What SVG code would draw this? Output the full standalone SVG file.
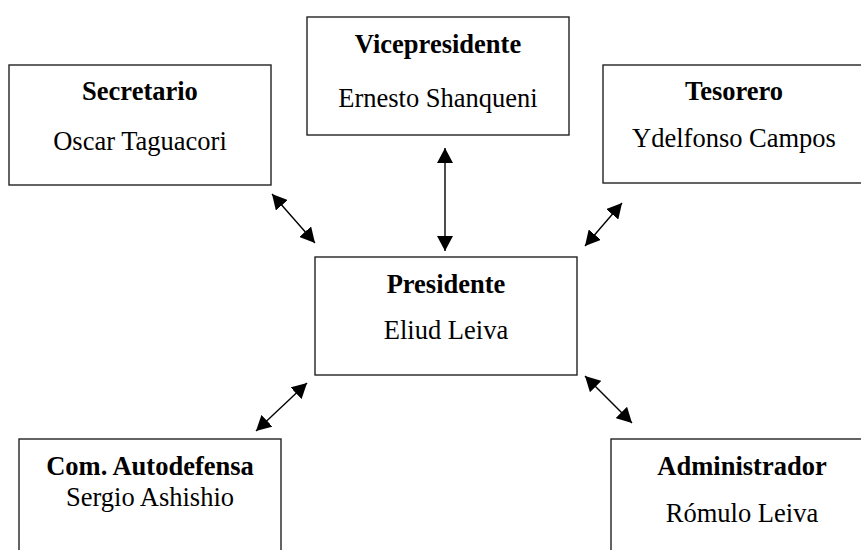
<svg xmlns="http://www.w3.org/2000/svg" width="861" height="550" viewBox="0 0 861 550">
<style>
.box{fill:#fff;stroke:#222;stroke-width:1.4}
.t{font-family:"Liberation Serif","Times New Roman",serif;font-size:26.5px;fill:#000;text-anchor:middle}
.b{font-weight:bold}
.c{stroke:#000;stroke-width:1.4;fill:none;marker-start:url(#ah);marker-end:url(#ah)}
</style>
<defs>
<marker id="ah" viewBox="0 0 15 16" refX="15" refY="8" markerWidth="15" markerHeight="16" markerUnits="userSpaceOnUse" orient="auto-start-reverse">
<path d="M0,0 L15,8 L0,16 Z" fill="#000"/>
</marker>
</defs>
<rect width="861" height="550" fill="#fff"/>
<g id="secretario">
<rect class="box" x="9" y="65" width="262" height="120"/>
<text class="t b" x="140" y="100">Secretario</text>
<text class="t" x="140" y="150">Oscar Taguacori</text>
</g>
<g id="vicepresidente">
<rect class="box" x="307" y="17" width="262" height="118"/>
<text class="t b" x="438" y="53">Vicepresidente</text>
<text class="t" x="438" y="107">Ernesto Shanqueni</text>
</g>
<g id="tesorero">
<rect class="box" x="603" y="65" width="262" height="118"/>
<text class="t b" x="734" y="100">Tesorero</text>
<text class="t" x="734" y="147">Ydelfonso Campos</text>
</g>
<g id="presidente">
<rect class="box" x="315" y="257" width="262" height="118"/>
<text class="t b" x="446" y="293">Presidente</text>
<text class="t" x="446" y="339">Eliud Leiva</text>
</g>
<g id="autodefensa">
<rect class="box" x="19" y="439" width="262" height="125"/>
<text class="t b" x="150" y="475">Com. Autodefensa</text>
<text class="t" x="150" y="506">Sergio Ashishio</text>
</g>
<g id="administrador">
<rect class="box" x="611" y="439" width="262" height="125"/>
<text class="t b" x="742" y="475">Administrador</text>
<text class="t" x="742" y="522">Rómulo Leiva</text>
</g>
<g id="connectors">
<line class="c" x1="272" y1="194" x2="315" y2="243"/>
<line class="c" x1="445" y1="148" x2="445" y2="251"/>
<line class="c" x1="622" y1="203" x2="585" y2="246"/>
<line class="c" x1="307" y1="383" x2="256" y2="431"/>
<line class="c" x1="585" y1="376" x2="632" y2="423"/>
</g>
</svg>
